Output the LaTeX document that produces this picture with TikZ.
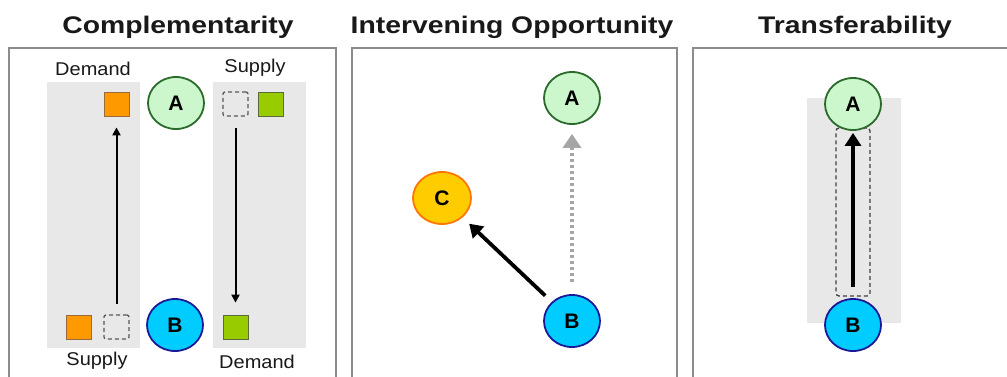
\documentclass[tikz,border=0pt]{standalone}
\usepackage{fontspec}
\usepackage{graphicx}
\setmainfont{Liberation Sans}
\usetikzlibrary{arrows.meta,shapes.geometric}
\definecolor{boxgray}{HTML}{8C8C8C}
\definecolor{band}{HTML}{E8E8E8}
\definecolor{afill}{HTML}{CCF7CC}
\definecolor{aline}{HTML}{2A6A2A}
\definecolor{bfill}{HTML}{00CCFF}
\definecolor{bline}{HTML}{1A1A99}
\definecolor{cfill}{HTML}{FFCC00}
\definecolor{cline}{HTML}{FF7700}
\definecolor{orangesq}{HTML}{FF9900}
\definecolor{orangeln}{HTML}{9A6A3A}
\definecolor{greensq}{HTML}{99CC00}
\definecolor{greenln}{HTML}{5A6A3A}
\definecolor{dotgray}{HTML}{A6A6A6}
\newcommand\wideT[1]{\scalebox{1.18}[1]{#1}}
\newcommand\wideL[1]{\scalebox{1.08}[1]{#1}}
\begin{document}
\begin{tikzpicture}[x=1pt,y=-1pt,
  panel/.style={draw=boxgray,line width=2pt},
  title/.style={font=\fontsize{24}{24}\selectfont\bfseries,inner sep=0pt,text=black!90},
  lbl/.style={font=\fontsize{18.5}{18.5}\selectfont,text=black!90,inner sep=0pt},
  city/.style={ellipse,minimum width=56pt,minimum height=52pt,inner sep=0pt,line width=1.8pt,font=\fontsize{21}{21}\selectfont\bfseries},
  cityA/.style={city,draw=aline,fill=afill},
  cityB/.style={city,draw=bline,fill=bfill},
  cityC/.style={city,draw=cline,fill=cfill,minimum width=58pt},
  sq/.style={rectangle,minimum width=25pt,minimum height=24pt,inner sep=0pt,line width=0.8pt},
  osq/.style={sq,draw=orangeln,fill=orangesq},
  gsq/.style={sq,draw=greenln,fill=greensq},
  dsq/.style={sq,draw=black!65,dashed,dash pattern=on 4pt off 3pt,line width=1.3pt,rounded corners=2pt},
  thinarr/.style={draw=black,line width=2pt,-{Triangle[length=8pt,width=8pt]}},
  fatarr/.style={draw=black,line width=3.8pt,-{Triangle[length=13pt,width=16pt]}},
  dotarr/.style={draw=dotgray,line width=4pt,dash pattern=on 3pt off 3pt,-{Triangle[length=14pt,width=18pt]}}
]
\clip (0,0) rectangle (1007,376);
\fill[white] (0,0) rectangle (1007,376);
% panels
\draw[panel] (9,48) rectangle (336,400);
\draw[panel] (352,48) rectangle (677,400);
\draw[panel] (693,48) rectangle (1030,400);
\node[title] (t1) at (178,27) {\wideT{Complementarity}};
\node[title] (t2) at (512,27) {\wideT{Intervening Opportunity}};
\node[title] (t3) at (855,27) {\wideT{Transferability}};
% ---- panel 1
\fill[band] (47,82) rectangle (140,348);
\fill[band] (213,82) rectangle (306,348);
\node[osq] (o1) at (116.5,104) {};
\node[cityA] (A1) at (176,103) {A};
\node[dsq] (d1) at (235.5,104) {};
\node[gsq] (g1) at (271,104) {};
\node[osq] (o2) at (79,327) {};
\node[dsq] (d2) at (116.5,327) {};
\node[cityB] (B1) at (175,325) {B};
\node[gsq] (g2) at (235.5,327) {};
\node[lbl] (l1) at (93,69) {\wideL{Demand}};
\node[lbl] (l2) at (255,68) {\wideL{Supply}};
\node[lbl] (l3) at (97,361) {\wideL{Supply}};
\node[lbl] (l4) at (257,362) {\wideL{Demand}};
\draw[thinarr,shorten <=10pt,shorten >=11pt] (d2.north) -- (o1.south);
\draw[thinarr,shorten <=11pt,shorten >=12pt] (d1.south) -- (g2.north);
% ---- panel 2
\node[cityA] (A2) at (572,98) {A};
\node[cityC] (C2) at (442,198) {C};
\node[cityB] (B2) at (572,321) {B};
\draw[dotarr,shorten <=12pt,shorten >=9pt] (B2.north) -- (A2.south);
\draw[fatarr,shorten <=9pt,shorten >=9pt] (B2) -- (C2);
% ---- panel 3
\fill[band] (807,98) rectangle (901,323);
\node[rectangle,draw=black!75,dashed,dash pattern=on 4pt off 3pt,line width=1.3pt,rounded corners=3pt,minimum width=34pt,minimum height=168pt,inner sep=0pt] (R3) at (853,212) {};
\node[cityA] (A3) at (853,104) {A};
\node[cityB] (B3) at (853,325) {B};
\draw[fatarr,shorten <=11pt,shorten >=2pt] (B3.north) -- (A3.south);
\end{tikzpicture}
\end{document}
